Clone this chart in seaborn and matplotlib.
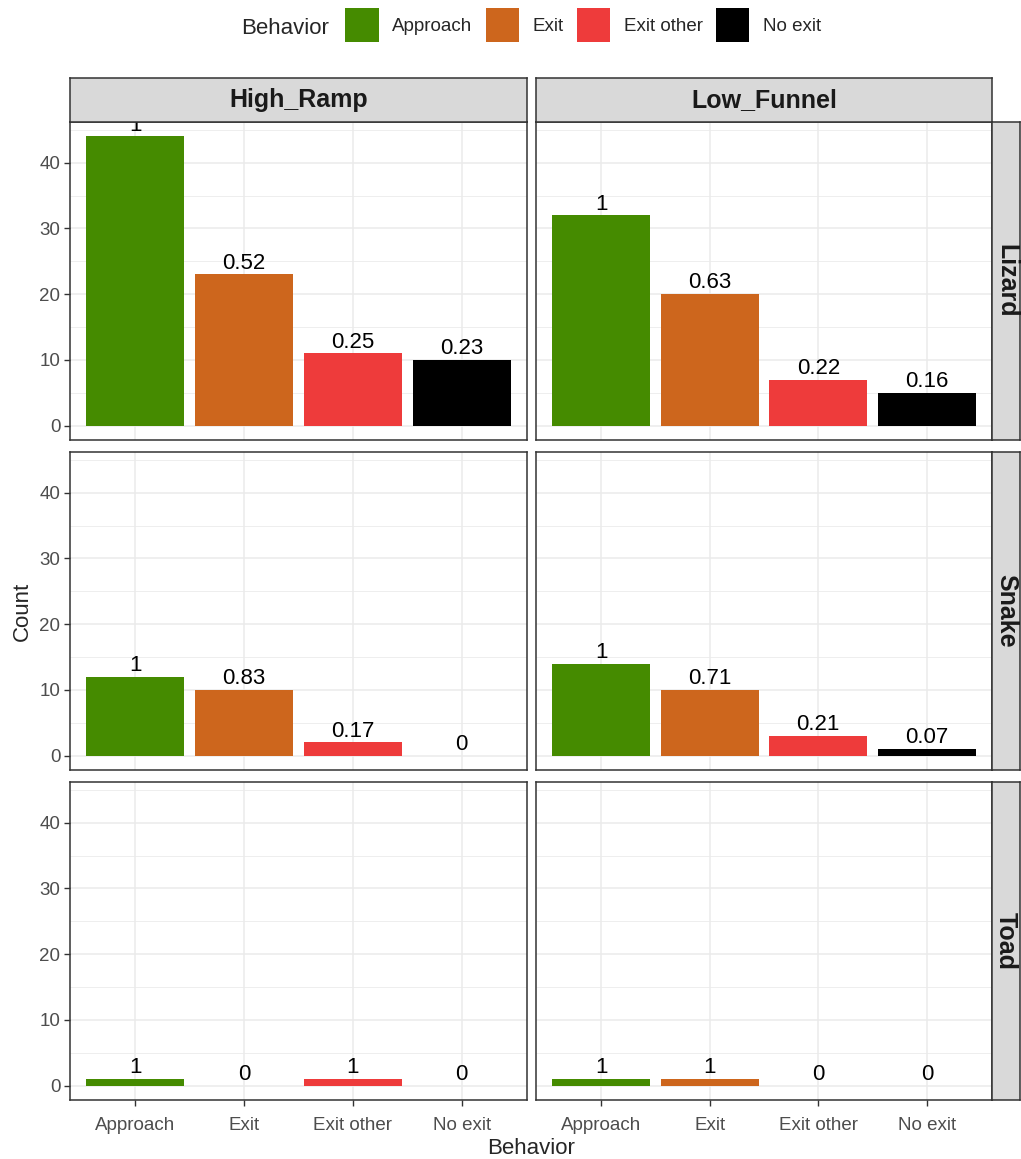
import matplotlib
matplotlib.use("Agg")
import matplotlib.pyplot as plt
from matplotlib.patches import Patch
from matplotlib.ticker import MultipleLocator
import pandas as pd
import seaborn as sns

# ─────────────────────────────────────────────
# DATA
# ─────────────────────────────────────────────
treatments = ["High_Ramp", "Low_Funnel"]
animals = ["Lizard", "Snake", "Toad"]
behaviors = ["Approach", "Exit", "Exit other", "No exit"]
colors = ["#458B00", "#CD661D", "#EE3B3B", "#000000"]

# counts per facet, in behavior order
lizard_high = [44, 23, 11, 10]
lizard_low = [32, 20, 7, 5]
snake_high = [12, 10, 2, 0]
snake_low = [14, 10, 3, 1]
toad_high = [1, 0, 1, 0]
toad_low = [1, 1, 0, 0]

# proportion of approaches printed over the bars
lizard_high_lab = ["1", "0.52", "0.25", "0.23"]
lizard_low_lab = ["1", "0.63", "0.22", "0.16"]
snake_high_lab = ["1", "0.83", "0.17", "0"]
snake_low_lab = ["1", "0.71", "0.21", "0.07"]
toad_high_lab = ["1", "0", "1", "0"]
toad_low_lab = ["1", "1", "0", "0"]

counts = {
    ("Lizard", "High_Ramp"): lizard_high, ("Lizard", "Low_Funnel"): lizard_low,
    ("Snake", "High_Ramp"): snake_high,   ("Snake", "Low_Funnel"): snake_low,
    ("Toad", "High_Ramp"): toad_high,     ("Toad", "Low_Funnel"): toad_low,
}
labels = {
    ("Lizard", "High_Ramp"): lizard_high_lab, ("Lizard", "Low_Funnel"): lizard_low_lab,
    ("Snake", "High_Ramp"): snake_high_lab,   ("Snake", "Low_Funnel"): snake_low_lab,
    ("Toad", "High_Ramp"): toad_high_lab,     ("Toad", "Low_Funnel"): toad_low_lab,
}

rows = []
for (animal, treat), vals in counts.items():
    for b, v, lab in zip(behaviors, vals, labels[(animal, treat)]):
        rows.append({"Animal": animal, "Treatment": treat, "Behavior": b, "Count": v, "Label": lab})
df = pd.DataFrame(rows)

# ─────────────────────────────────────────────
# STYLE
# ─────────────────────────────────────────────
sns.set_style("white")
plt.rcParams["font.family"] = ["Liberation Sans", "DejaVu Sans"]

W, H = 1021, 1159
GRID = "#EBEBEB"
DARK = "#333333"
STRIP = "#D9D9D9"

fig = plt.figure(figsize=(W / 100, H / 100), dpi=100)

col_x = [70, 536]
col_w = [457, 456]
row_y = [122, 452, 782]
row_h = 318
strip_h = 44
rstrip_w = 28

def fbox(x, y, w, h):
    return [x / W, 1 - (y + h) / H, w / W, h / H]

palette = dict(zip(behaviors, colors))

for r, animal in enumerate(animals):
    for c, treat in enumerate(treatments):
        ax = fig.add_axes(fbox(col_x[c], row_y[r], col_w[c], row_h))
        sub = df[(df["Animal"] == animal) & (df["Treatment"] == treat)]
        sns.barplot(data=sub, x="Behavior", y="Count", hue="Behavior",
                    order=behaviors, hue_order=behaviors, palette=palette,
                    width=0.9, saturation=1, legend=False, linewidth=0,
                    errorbar=None, ax=ax)
        labs = list(sub["Label"])
        for bars in ax.containers:
            idx = [int(round(b.get_x() + b.get_width() / 2)) for b in bars]
            ax.bar_label(bars, labels=[labs[i] for i in idx], padding=0.5,
                         fontsize=16, color="black", clip_on=True)

        ax.set_xlim(-0.6, 3.6)
        ax.set_ylim(-2.2, 46.2)
        ax.yaxis.set_major_locator(MultipleLocator(10))
        ax.yaxis.set_minor_locator(MultipleLocator(5))
        ax.set_axisbelow(True)
        ax.grid(which="major", color=GRID, lw=1.1)
        ax.grid(which="minor", axis="y", color=GRID, lw=0.6)
        ax.set_xlabel("")
        ax.set_ylabel("")
        for s in ax.spines.values():
            s.set_color(DARK)
            s.set_linewidth(1.1)
        ax.tick_params(axis="both", which="major", length=4, width=1, color=DARK,
                       labelsize=13.5, labelcolor="#4D4D4D", pad=3)
        ax.tick_params(axis="x", which="major", pad=8)
        ax.tick_params(axis="y", which="minor", length=0)
        ax.tick_params(left=True, bottom=True)
        if c > 0:
            ax.tick_params(axis="y", length=0, labelleft=False)
        if r < len(animals) - 1:
            ax.tick_params(axis="x", length=0, labelbottom=False)

        # column strips on top
        if r == 0:
            sx = fig.add_axes(fbox(col_x[c], row_y[0] - strip_h, col_w[c], strip_h))
            sx.set_facecolor(STRIP)
            sx.set_xticks([])
            sx.set_yticks([])
            for s in sx.spines.values():
                s.set_color(DARK)
                s.set_linewidth(1.1)
            sx.text(0.5, 0.5, treat, ha="center", va="center", fontsize=18,
                    fontweight="bold", color="#1A1A1A", transform=sx.transAxes)

    # row strips on the right
    sy = fig.add_axes(fbox(col_x[1] + col_w[1], row_y[r], rstrip_w, row_h))
    sy.set_facecolor(STRIP)
    sy.set_xticks([])
    sy.set_yticks([])
    for s in sy.spines.values():
        s.set_color(DARK)
        s.set_linewidth(1.1)
    sy.text(0.5, 0.5, animal, ha="center", va="center", rotation=-90, fontsize=18,
            fontweight="bold", color="#1A1A1A", transform=sy.transAxes)

# axis titles
fig.text(22 / W, 1 - 611 / H, "Count", rotation=90, ha="center", va="center", fontsize=16)
fig.text(531 / W, 1 - 1148 / H, "Behavior", ha="center", va="center", fontsize=16)

# legend on top
handles = [Patch(facecolor=col, edgecolor="none", label=b) for b, col in zip(behaviors, colors)]
fig.text(241 / W, 1 - 28 / H, "Behavior", ha="left", va="center", fontsize=16)
fig.legend(handles=handles, loc="center", bbox_to_anchor=(583 / W, 1 - 25 / H),
           ncol=4, frameon=False, fontsize=13.5, handlelength=1.8, handleheight=2.4,
           handletextpad=0.7, columnspacing=0.7, borderpad=0)

fig.savefig("out.png", dpi=100)
plt.close(fig)
